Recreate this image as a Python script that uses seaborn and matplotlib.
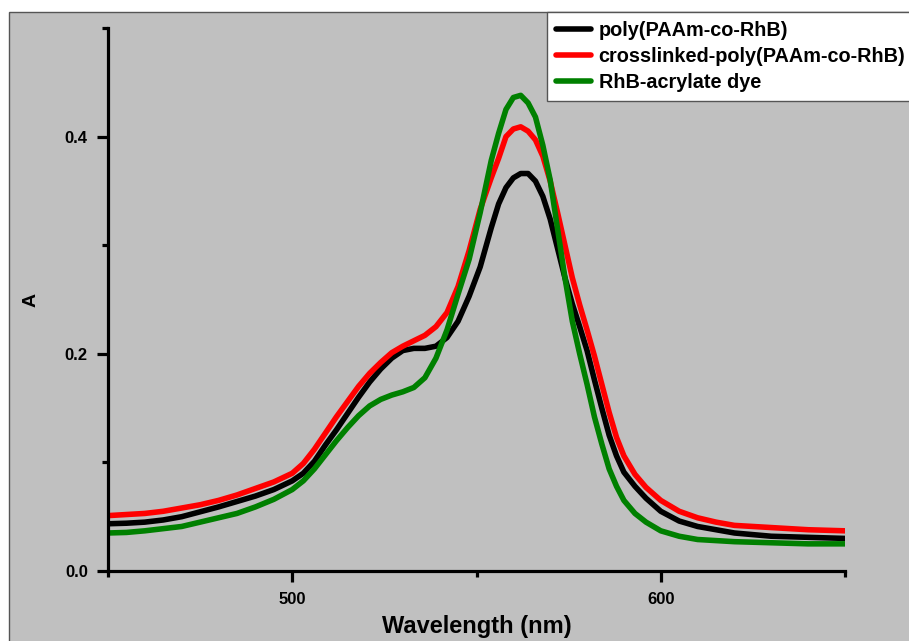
import matplotlib
matplotlib.use("Agg")
import matplotlib.pyplot as plt
from matplotlib.patches import Rectangle
from matplotlib.ticker import MultipleLocator
import seaborn as sns

# Wellenlaengen (nm) und Absorbanz der drei Proben
wavelength = [450, 455, 460, 465, 470, 475, 480, 485, 490, 495, 500, 503, 506, 509, 512,
              515, 518, 521, 524, 527, 530, 533, 536, 539, 542, 545, 548, 551, 554, 556,
              558, 560, 562, 564, 566, 568, 570, 572, 574, 576, 578, 580, 582, 584, 586,
              588, 590, 593, 596, 600, 605, 610, 615, 620, 630, 640, 650]

poly = [0.0435, 0.044, 0.045, 0.047, 0.050, 0.0545, 0.059, 0.064, 0.069, 0.075, 0.083,
        0.090, 0.101, 0.116, 0.130, 0.145, 0.160, 0.174, 0.186, 0.196, 0.203, 0.205,
        0.205, 0.207, 0.215, 0.230, 0.253, 0.280, 0.316, 0.338, 0.353, 0.362, 0.366,
        0.366, 0.359, 0.345, 0.324, 0.297, 0.270, 0.246, 0.225, 0.203, 0.176, 0.150,
        0.125, 0.106, 0.091, 0.078, 0.067, 0.055, 0.046, 0.041, 0.038, 0.035, 0.032,
        0.031, 0.030]

crosslinked = [0.051, 0.052, 0.053, 0.055, 0.058, 0.061, 0.065, 0.070, 0.076, 0.082, 0.090,
               0.099, 0.112, 0.127, 0.142, 0.156, 0.170, 0.182, 0.192, 0.201, 0.207, 0.212,
               0.217, 0.225, 0.238, 0.262, 0.295, 0.333, 0.362, 0.380, 0.400, 0.407, 0.409,
               0.405, 0.397, 0.382, 0.359, 0.330, 0.300, 0.270, 0.245, 0.222, 0.198, 0.172,
               0.146, 0.123, 0.106, 0.089, 0.077, 0.065, 0.055, 0.049, 0.045, 0.042, 0.040,
               0.038, 0.037]

dye = [0.035, 0.0355, 0.037, 0.039, 0.041, 0.045, 0.049, 0.053, 0.059, 0.066, 0.075,
       0.083, 0.094, 0.107, 0.120, 0.132, 0.143, 0.152, 0.158, 0.162, 0.165, 0.169,
       0.178, 0.196, 0.222, 0.255, 0.287, 0.330, 0.378, 0.403, 0.425, 0.436, 0.438,
       0.431, 0.418, 0.392, 0.360, 0.315, 0.270, 0.230, 0.200, 0.172, 0.142, 0.117,
       0.094, 0.078, 0.065, 0.053, 0.045, 0.037, 0.032, 0.029, 0.028, 0.027, 0.026,
       0.025, 0.025]

labels = ["poly(PAAm-co-RhB)", "crosslinked-poly(PAAm-co-RhB)", "RhB-acrylate dye"]
colors = ["black", "#ff0000", "#008000"]

sns.set_style("white")
plt.rcParams["font.family"] = ["Liberation Sans", "DejaVu Sans"]
plt.rcParams["text.color"] = "black"
plt.rcParams["axes.labelcolor"] = "black"
plt.rcParams["xtick.color"] = "black"
plt.rcParams["ytick.color"] = "black"
plt.rcParams["lines.solid_joinstyle"] = "round"

W, H = 909, 641
fig = plt.figure(figsize=(W / 100, H / 100), dpi=100, facecolor="white")

# grauer Hintergrund wie im Original (Origin-Export)
fig.patches.append(Rectangle((9 / W, -0.01), 1.0, 1 - 12 / H + 0.01,
                             transform=fig.transFigure, facecolor="#c0c0c0",
                             edgecolor="#555555", linewidth=1.0, zorder=-10))

ax = fig.add_axes([108 / W, 1 - 571 / H, (845 - 108) / W, (571 - 28) / H])
ax.patch.set_alpha(0)

for series, lab, col in zip([poly, crosslinked, dye], labels, colors):
    sns.lineplot(x=wavelength, y=series, ax=ax, color=col, linewidth=4, label=lab)

ax.set_xlim(450, 650)
ax.set_ylim(0, 0.5)
ax.xaxis.set_major_locator(MultipleLocator(100))
ax.xaxis.set_minor_locator(MultipleLocator(50))
ax.yaxis.set_major_locator(MultipleLocator(0.2))
ax.yaxis.set_minor_locator(MultipleLocator(0.1))
ax.set_xticks([500, 600])
ax.set_yticks([0.0, 0.2, 0.4])
ax.set_yticklabels(["0.0", "0.2", "0.4"])

for side in ["top", "right"]:
    ax.spines[side].set_visible(False)
for side in ["left", "bottom"]:
    ax.spines[side].set_linewidth(2.3)
    ax.spines[side].set_color("black")

ax.tick_params(which="both", bottom=True, left=True, direction="out", width=2.3,
               colors="black")
ax.tick_params(which="major", length=8, labelsize=12)
ax.tick_params(which="minor", length=4)
ax.tick_params(axis="y", which="major", pad=6.5)
ax.tick_params(axis="x", which="major", pad=7)
for t in ax.get_xticklabels() + ax.get_yticklabels():
    t.set_fontweight("bold")

ax.set_xlabel("Wavelength (nm)", fontsize=17, fontweight="bold", labelpad=6)
ax.set_ylabel("A", fontsize=14, fontweight="bold", labelpad=18)

leg = ax.legend(loc="upper left", bbox_to_anchor=(547 / W, 1 - 12 / H),
                bbox_transform=fig.transFigure, frameon=True, fancybox=False,
                prop={"weight": "bold", "size": 14.3}, handlelength=1.75,
                handletextpad=0.4, borderpad=0.45, labelspacing=0.36,
                borderaxespad=0)
leg.get_frame().set_edgecolor("#555555")
leg.get_frame().set_linewidth(1.0)
leg.get_frame().set_facecolor("white")
leg.get_frame().set_alpha(1)
for line in leg.get_lines():
    line.set_linewidth(4)

fig.savefig("out.png", dpi=100, facecolor="white")
